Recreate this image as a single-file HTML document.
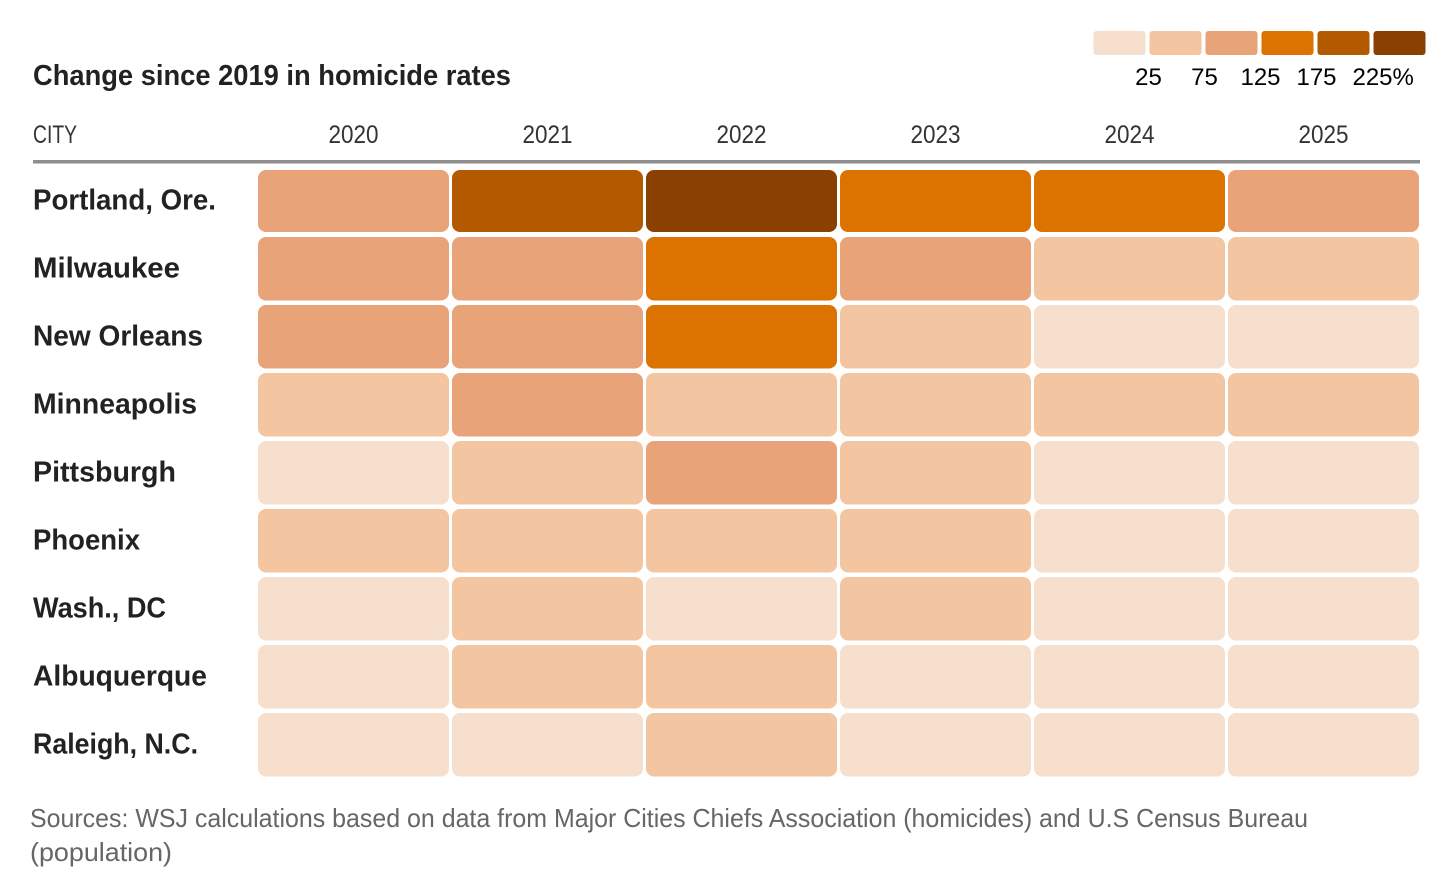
<!DOCTYPE html>
<html lang="en">
<head>
<meta charset="utf-8">
<title>Change since 2019 in homicide rates</title>
<style>
  html, body { margin: 0; padding: 0; background: #fff; width: 1438px; height: 890px; overflow: hidden; }
  svg { display: block; font-family: "Liberation Sans", sans-serif; }
</style>
</head>
<body>
<svg id="chart" xmlns="http://www.w3.org/2000/svg" width="1438" height="890" viewBox="0 0 1438 890">
  <text x="33" y="85" font-size="29" font-weight="700" fill="#222" textLength="478" lengthAdjust="spacingAndGlyphs">Change since 2019 in homicide rates</text>
  <text x="33" y="143" font-size="25" fill="#333" textLength="44" lengthAdjust="spacingAndGlyphs">CITY</text>
  <rect x="33" y="160" width="1387" height="3.5" fill="#8e8e8e"></rect>
  <g id="legend"></g>
  <g id="year-labels"></g>
  <g id="city-labels"></g>
  <g id="cells"></g>
  <text x="30" y="827" font-size="26" fill="#666" textLength="1278" lengthAdjust="spacingAndGlyphs">Sources: WSJ calculations based on data from Major Cities Chiefs Association (homicides) and U.S Census Bureau</text>
  <text x="30" y="861" font-size="26" fill="#666" textLength="142" lengthAdjust="spacingAndGlyphs">(population)</text>
</svg>
<script>
const years = ["2020", "2021", "2022", "2023", "2024", "2025"];
const cities = ["Portland, Ore.", "Milwaukee", "New Orleans", "Minneapolis", "Pittsburgh", "Phoenix", "Wash., DC", "Albuquerque", "Raleigh, N.C."];
const portland = [100, 200, 250, 150, 150, 100];
const milwaukee = [100, 100, 150, 100, 50, 50];
const newOrleans = [100, 100, 150, 50, 10, 10];
const minneapolis = [50, 100, 50, 50, 50, 50];
const pittsburgh = [10, 50, 100, 50, 10, 10];
const phoenix = [50, 50, 50, 50, 10, 10];
const washington = [10, 50, 10, 50, 10, 10];
const albuquerque = [10, 50, 50, 10, 10, 10];
const raleigh = [10, 10, 50, 10, 10, 10];
const seriesValues = [portland, milwaukee, newOrleans, minneapolis, pittsburgh, phoenix, washington, albuquerque, raleigh];
const legendThresholds = [25, 75, 125, 175, 225];
const palette = ["#f6dfcd", "#f3c6a1", "#e9a379", "#dc7300", "#b35a00", "#8a4000"];

const SVG_NS = "http://www.w3.org/2000/svg";
const labelFit = { "Portland, Ore.": 183, "Milwaukee": 147, "New Orleans": 170, "Minneapolis": 164, "Pittsburgh": 143, "Phoenix": 107, "Wash., DC": 133, "Albuquerque": 174, "Raleigh, N.C.": 165 };

function xScale(col) { return 258 + 194 * col; }
function rowTop(row) { return row === 0 ? 170 : 237 + 68 * (row - 1); }
function rowHeight(row) { return row === 0 ? 62 : 63.5; }
function rowBaseline(row) { return 209.5 + 68 * row; }
function colorFor(value) {
  let bin = 0;
  legendThresholds.forEach(function (t) { if (value >= t) bin += 1; });
  return palette[bin];
}
function make(tag, attrs, parent) {
  const el = document.createElementNS(SVG_NS, tag);
  Object.keys(attrs).forEach(function (k) { el.setAttribute(k, attrs[k]); });
  parent.appendChild(el);
  return el;
}

const legendGroup = document.getElementById("legend");
palette.forEach(function (color, i) {
  const swatch = make("rect", { x: 1093.5 + 56 * i, y: 31, width: 52, height: 24, rx: 3, fill: color }, legendGroup);
  
  
});
legendThresholds.forEach(function (t, i) {
  const str = String(t);
  const center = 1148.5 + 56 * i;
  const label = make("text", { x: center - str.length * 6.67, y: 85, "font-size": 24, fill: "#000" }, legendGroup);
  label.textContent = str + (i === legendThresholds.length - 1 ? "%" : "");
  
  
});

const yearGroup = document.getElementById("year-labels");
years.forEach(function (year, col) {
  const label = make("text", { x: xScale(col) + 95.5, y: 143, "font-size": 25, fill: "#333", "text-anchor": "middle", textLength: 50, lengthAdjust: "spacingAndGlyphs" }, yearGroup);
  label.textContent = year;
  
  
});

const cityGroup = document.getElementById("city-labels");
cities.forEach(function (city, row) {
  const attrs = { x: 33, y: rowBaseline(row), "font-size": 29, "font-weight": 700, fill: "#222" };
  if (labelFit[city]) { attrs.textLength = labelFit[city]; attrs.lengthAdjust = "spacingAndGlyphs"; }
  const label = make("text", attrs, cityGroup);
  label.textContent = city;
  
  
});

const cellGroup = document.getElementById("cells");
seriesValues.forEach(function (rowValues, row) {
  rowValues.forEach(function (value, col) {
    const cell = make("rect", { x: xScale(col), y: rowTop(row), width: 191, height: rowHeight(row), rx: 8, fill: colorFor(value) }, cellGroup);
    
    
  });
});
</script>
</body>
</html>
